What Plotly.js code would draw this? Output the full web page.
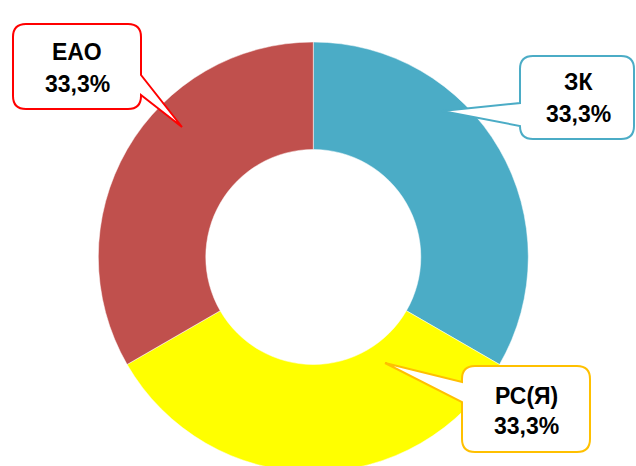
<!DOCTYPE html>
<html>
<head>
<meta charset="utf-8">
<script src="https://cdn.plot.ly/plotly-3.0.1.min.js"></script>
<style>
html,body{margin:0;padding:0;overflow:hidden;background:#fff;width:636px;height:466px;}
#chart{width:636px;height:514px;}
</style>
</head>
<body>
<div id="chart"></div>
<script>
// ---- data ----
var categories = ["ЗК", "РС(Я)", "ЕАО"];
var values = [1, 1, 1];
var sliceColors = ["#4BACC6", "#FFFF00", "#C0504D"];
var calloutBorders = ["#4BACC6", "#FFC000", "#FF0000"];

// ---- layout helpers ----
var W = 636, H = 514;
function px(x){ return x / W; }
function py(y){ return 1 - y / H; }

var total = values.reduce(function(a,b){return a+b;},0);
function pctText(v){ return (v/total*100).toFixed(1).replace('.', ',') + '%'; }

// callout geometry (pixels): box, pointer side, pointer base, tip
var callouts = [
  {box:[520,56,634,139], side:'left',  base:[103,126], tip:[442,111], t1:82, t2:114, cx:578},
  {box:[462,366,590,452], side:'left', base:[382,402], tip:[385,363], t1:396, t2:426, cx:526},
  {box:[13,24,141,109],  side:'right', base:[75,95],   tip:[182,127], t1:52, t2:84, cx:77}
];

function P(x,y){ return px(x).toFixed(5) + ',' + py(y).toFixed(5); }
function calloutPath(c){
  var x0=c.box[0], y0=c.box[1], x1=c.box[2], y1=c.box[3], r=13;
  var s = 'M' + P(x0+r,y0) + ' L' + P(x1-r,y0) + ' Q' + P(x1,y0) + ' ' + P(x1,y0+r);
  if (c.side==='right'){
    s += ' L' + P(x1,c.base[0]) + ' L' + P(c.tip[0],c.tip[1]) + ' L' + P(x1,c.base[1]);
  }
  s += ' L' + P(x1,y1-r) + ' Q' + P(x1,y1) + ' ' + P(x1-r,y1);
  s += ' L' + P(x0+r,y1) + ' Q' + P(x0,y1) + ' ' + P(x0,y1-r);
  if (c.side==='left'){
    s += ' L' + P(x0,c.base[1]) + ' L' + P(c.tip[0],c.tip[1]) + ' L' + P(x0,c.base[0]);
  }
  s += ' L' + P(x0,y0+r) + ' Q' + P(x0,y0) + ' ' + P(x0+r,y0) + ' Z';
  return s;
}

var shapes = [], annotations = [];
var fnt = {family:'Liberation Sans, Arial, sans-serif', size:23, color:'#000'};
categories.forEach(function(cat,i){
  var c = callouts[i];
  shapes.push({type:'path', xref:'paper', yref:'paper', path:calloutPath(c),
    fillcolor:'#FFFFFF', line:{color:calloutBorders[i], width:2}, layer:'above'});
  annotations.push({xref:'paper', yref:'paper', x:px(c.cx), y:py(c.t1), text:'<b>'+cat+'</b>',
    showarrow:false, xanchor:'center', yanchor:'middle', font:fnt});
  annotations.push({xref:'paper', yref:'paper', x:px(c.cx), y:py(c.t2), text:'<b>'+pctText(values[i])+'</b>',
    showarrow:false, xanchor:'center', yanchor:'middle', font:fnt});
});

var trace = {
  type:'pie', labels:categories, values:values, hole:0.5,
  sort:false, direction:'clockwise', rotation:0,
  marker:{colors:sliceColors, line:{color:'#FFFFFF', width:0.5}},
  textinfo:'none', hoverinfo:'label+percent',
  domain:{x:[98.3/W, 528.3/W], y:[0,1]}
};

var layout = {
  width:W, height:H, margin:{l:0,r:0,t:0,b:0},
  showlegend:false, paper_bgcolor:'#FFFFFF',
  shapes:shapes, annotations:annotations
};

Plotly.newPlot('chart', [trace], layout, {displayModeBar:false, staticPlot:true});
</script>
</body>
</html>
